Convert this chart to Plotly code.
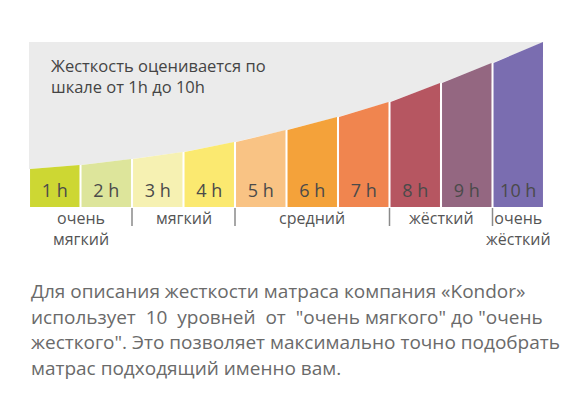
import plotly.graph_objects as go

# hardness levels
levels = ['1 h', '2 h', '3 h', '4 h', '5 h', '6 h', '7 h', '8 h', '9 h', '10 h']
colors = ['#cdd733', '#dde59b', '#f6f1b2', '#fbe970', '#f9c384',
          '#f4a23a', '#f0854f', '#b65661', '#946781', '#7a6db0']
# height of the curve at each bar edge (11 edges)
edge_heights = [38, 42, 48, 55, 65, 77, 90, 105, 124, 144, 165]

# groups under the bars: (first level, last level, text)
groups = [(0, 1, 'очень<br>мягкий'), (2, 3, 'мягкий'), (4, 6, 'средний'),
          (7, 8, 'жёсткий'), (9, 9, 'очень<br>жёсткий')]
separators = [2, 4, 7, 9]

title_text = 'Жесткость оценивается по<br>шкале от 1h до 10h'
para_lines = ['Для описания жесткости матраса компания «Kondor»',
              'использует\u00a0\u00a010\u00a0\u00a0уровней\u00a0\u00a0от\u00a0\u00a0"очень мягкого" до "очень',
              'жесткого". Это позволяет максимально точно подобрать',
              'матрас подходящий именно вам.']

fig = go.Figure()

n = len(levels)
edges = list(range(n + 1))
top = max(edge_heights)

# grey area above the curve
fig.add_trace(go.Scatter(
    x=edges + [edges[-1], edges[0]],
    y=edge_heights + [top, top],
    fill='toself', fillcolor='#ebebeb', mode='none', hoverinfo='skip'))

gap = 0.02
for i in range(n):
    x0, x1 = edges[i] + gap, edges[i + 1] - gap
    fig.add_trace(go.Scatter(
        x=[x0, x1, x1, x0, x0],
        y=[0, 0, edge_heights[i + 1], edge_heights[i], 0],
        fill='toself', fillcolor=colors[i], mode='none', hoverinfo='skip'))

# labels inside the bars
fig.add_trace(go.Scatter(
    x=[i + 0.5 for i in range(n)], y=[15] * n, mode='text', text=levels,
    textfont=dict(family='Open Sans', size=18, color='#4a4a4a'), hoverinfo='skip'))

for s in separators:
    fig.add_shape(type='line', x0=s, x1=s, y0=-1, y1=-19,
                  line=dict(color='#8a8a8a', width=1.5))

for a, b, txt in groups:
    fig.add_annotation(x=(a + b + 1) / 2, y=2, text=txt, showarrow=False,
                       yanchor='top', font=dict(family='Open Sans', size=16, color='#555555'))

fig.add_annotation(x=0.38, y=155, text=title_text, showarrow=False, xanchor='left',
                   yanchor='top', align='left',
                   font=dict(family='Open Sans', size=16.5, color='#444444'))

for k, line in enumerate(para_lines):
    fig.add_annotation(x=0, y=-84 - 25.5 * k, text=line, showarrow=False, xanchor='left',
                       font=dict(family='Open Sans', size=19, color='#6a6a6a'))

# the page puts the figure 8px from the top-left corner
px_per_unit = 51.5
x_left = -(29 - 8) / px_per_unit
y_top = 207 - 8
fig.update_layout(
    width=570, height=407, margin=dict(l=0, r=0, t=0, b=0),
    paper_bgcolor='white', plot_bgcolor='white', showlegend=False,
    xaxis=dict(range=[x_left, x_left + 570 / px_per_unit], visible=False, fixedrange=True),
    yaxis=dict(range=[y_top - 407, y_top], visible=False, fixedrange=True),
)

fig.write_html('out.html')
